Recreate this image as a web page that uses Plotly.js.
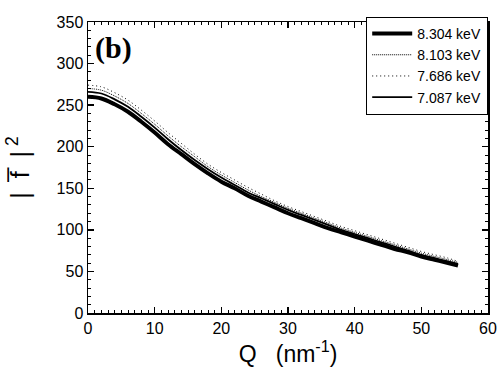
<!DOCTYPE html>
<html>
<head>
<meta charset="utf-8">
<script src="https://cdn.plot.ly/plotly-3.0.1.min.js"></script>
<style>html,body{margin:0;padding:0;background:#fff;}#chart{width:500px;height:378px;}</style>
</head>
<body>
<div id="chart"></div>
<script>
const Q = [0, 2, 4, 6, 8, 10, 12, 14, 16, 18, 20, 22, 24, 26, 28, 30, 32, 34, 36, 38, 40, 42, 44, 46, 48, 50, 52, 54, 55.5];
const f8304 = [260, 258, 251, 242, 230, 217, 203, 191, 179, 168, 158, 150, 141, 134, 127, 120, 114, 108, 102, 97, 92, 87, 82, 77, 73, 68, 64, 60, 57];
const f8103 = [270, 268, 261, 252, 240, 227, 213, 200, 188, 176, 166, 157, 148, 140, 133, 126, 120, 114, 108, 102, 97, 92, 87, 82, 77, 72, 68, 64, 61];
const f7686 = [274, 272, 265, 256, 244, 231, 217, 204, 191, 179, 169, 160, 151, 143, 135, 128, 122, 116, 110, 104, 99, 94, 89, 84, 79, 74, 70, 66, 62];
const f7087 = [266, 264, 257, 248, 236, 223, 209, 196, 184, 173, 163, 154, 145, 138, 131, 124, 118, 112, 106, 100, 95, 90, 85, 80, 75, 70, 66, 62, 59];
const names = ['8.304 keV', '8.103 keV', '7.686 keV', '7.087 keV'];

const traces = [
  {x: Q, y: f8304, name: names[0], mode: 'lines', line: {color: '#000', width: 4, shape: 'spline'}},
  {x: Q, y: f8103, name: names[1], mode: 'lines', line: {color: '#000', width: 1, dash: '1px,1px', shape: 'spline'}},
  {x: Q, y: f7686, name: names[2], mode: 'lines', line: {color: '#000', width: 1, dash: '1px,3px', shape: 'spline'}},
  {x: Q, y: f7087, name: names[3], mode: 'lines', line: {color: '#000', width: 1.8, shape: 'spline'}}
];

const SANS = 'Liberation Sans, Arial, sans-serif';
const axisCommon = {
  showgrid: false, zeroline: false, showline: true, linecolor: '#000', linewidth: 1.5,
  mirror: 'allticks', ticks: 'inside', ticklen: 6, tickwidth: 1.5, tickcolor: '#000',
  tickfont: {family: SANS, size: 16, color: '#000'}
};

const layout = {
  width: 500, height: 378,
  margin: {l: 88, r: 12, t: 22, b: 65},
  paper_bgcolor: '#fff', plot_bgcolor: '#fff',
  showlegend: true,
  legend: {x: 1, y: 1.018, xanchor: 'right', yanchor: 'top', bordercolor: '#000', borderwidth: 1.2,
    bgcolor: '#fff', font: {family: SANS, size: 14, color: '#000'},
    tracegroupgap: 0, itemwidth: 40},
  xaxis: Object.assign({}, axisCommon, {
    range: [0, 60], dtick: 10, tick0: 0,
    minor: {dtick: 1, ticks: 'inside', ticklen: 3, tickwidth: 1, tickcolor: '#000'},
    title: {text: 'Q\u00a0\u00a0\u00a0(nm<sup>-1</sup>)', font: {family: SANS, size: 23, color: '#000'}, standoff: 10}
  }),
  yaxis: Object.assign({}, axisCommon, {
    range: [0, 350], dtick: 50, tick0: 0,
    minor: {dtick: 10, ticks: 'inside', ticklen: 3, tickwidth: 1, tickcolor: '#000'},
    title: {text: '|\u00a0\u00a0f\u0305\u00a0\u00a0|<sup>\u00a02</sup>', font: {family: SANS, size: 25, color: '#000'}, standoff: 20}
  }),
  annotations: [{
    xref: 'paper', yref: 'paper', x: 0.012, y: 0.91, xanchor: 'left', yanchor: 'middle',
    text: '<b>(b)</b>', showarrow: false,
    font: {family: 'Liberation Serif, Times New Roman, serif', size: 30, color: '#000'}
  }]
};

Plotly.newPlot('chart', traces, layout, {displayModeBar: false, staticPlot: true});
</script>
</body>
</html>
